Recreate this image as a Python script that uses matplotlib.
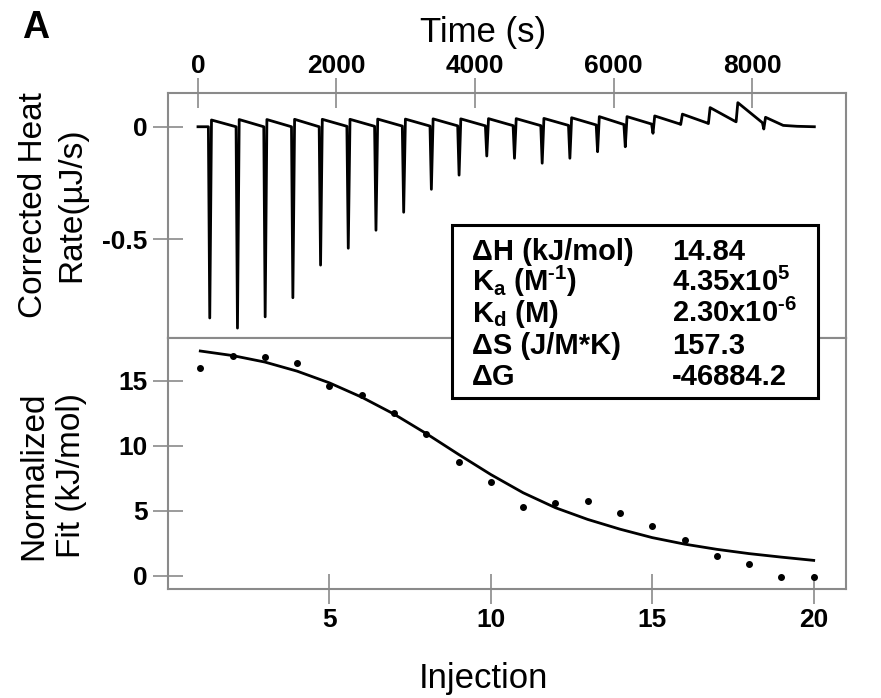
import matplotlib
matplotlib.use("Agg")
import matplotlib.pyplot as plt
from matplotlib.patches import Rectangle

plt.rcParams['font.family'] = ['Liberation Sans', 'DejaVu Sans']
plt.rcParams['mathtext.default'] = 'regular'

# raw thermogram
inj_time = [150, 550, 950, 1350, 1750, 2150, 2550, 2950, 3350, 3750, 4150,
            4550, 4950, 5350, 5750, 6150, 6550, 6950, 7350, 7750, 8150]
spike_min = [-0.85, -0.895, -0.845, -0.76, -0.615, -0.54, -0.46, -0.38, -0.278, -0.215, -0.13,
             -0.14, -0.162, -0.14, -0.111, -0.089, -0.029, 0.010, 0.014, 0.022, -0.01]
spike_max = [0.03, 0.032, 0.032, 0.033, 0.033, 0.033, 0.034, 0.034, 0.035, 0.035, 0.036,
             0.036, 0.037, 0.040, 0.045, 0.045, 0.048, 0.056, 0.085, 0.107, 0.042]
pre_level = [0.0, 0.0, 0.0, 0.0, 0.0, 0.002, 0.002, 0.003, 0.003, 0.004, 0.004,
             0.005, 0.005, 0.006, 0.008, 0.010, 0.012, 0.013, 0.017, 0.025, 0.018]
tail_time = [8450, 8650, 8900]
tail_rate = [0.006, 0.002, 0.0]

# integrated heats + fit
injection = [1, 2, 3, 4, 5, 6, 7, 8, 9, 10, 11, 12, 13, 14, 15, 16, 17, 18, 19, 20]
heat_pts = [16.0, 16.95, 16.85, 16.35, 14.6, 13.9, 12.5, 10.95, 8.8, 7.25, 5.3,
            5.6, 5.8, 4.85, 3.85, 2.8, 1.55, 0.9, -0.1, -0.1]
fit_vals = [17.3, 16.95, 16.45, 15.75, 14.85, 13.75, 12.45, 10.95, 9.35, 7.8, 6.4,
            5.25, 4.35, 3.6, 2.95, 2.45, 2.05, 1.72, 1.45, 1.2]

time_ticks = [0, 2000, 4000, 6000, 8000]
rate_ticks = [0, -0.5]
rate_labels = ['0', '-0.5']
inj_ticks = [5, 10, 15, 20]
heat_ticks = [0, 5, 10, 15]

param_names = ['ΔH (kJ/mol)', 'K$_{a}$ (M$^{‐1}$)', 'K$_{d}$ (M)', 'ΔS (J/M*K)', 'ΔG']
param_values = ['14.84', '4.35x10$^{5}$', '2.30x10$^{‐6}$', '157.3', '-46884.2']

# build the trace from the per-injection readings
t_pts = [0]
r_pts = [pre_level[0]]
for k, t0 in enumerate(inj_time):
    t_pts += [t0, t0 + 20, t0 + 45]
    r_pts += [pre_level[k], spike_min[k], spike_max[k]]
t_pts += tail_time
r_pts += tail_rate

W, H = 881, 698
fig = plt.figure(figsize=(W / 100, H / 100), dpi=100)
ax1 = fig.add_axes([168 / W, 1 - 338 / H, 678 / W, 245 / H])
ax2 = fig.add_axes([168 / W, 1 - 589 / H, 678 / W, 251 / H])

gray = '#8a8a8a'

ax1.plot(t_pts, r_pts, color='black', lw=2.0)
ax1.set_xlim(-433, 9357)
ax1.set_ylim(-0.939, 0.150)
ax1.xaxis.tick_top()
ax1.set_xticks(time_ticks)
ax1.set_yticks(rate_ticks)
ax1.set_yticklabels(rate_labels)

ax2.plot(injection, fit_vals, color='black', lw=2)
ax2.plot(injection, heat_pts, 'o', color='black', ms=4)
ax2.set_xlim(0, 21)
ax2.set_ylim(-1.0, 18.3)
ax2.set_xticks(inj_ticks)
ax2.set_yticks(heat_ticks)

for ax in (ax1, ax2):
    ax.tick_params(direction='inout', length=21, width=1.2, color=gray, labelsize=19)
    ax.tick_params(axis='y', pad=4)
    for s in ax.spines.values():
        s.set_color(gray)
        s.set_linewidth(1.5)
    for lbl in ax.get_xticklabels() + ax.get_yticklabels():
        lbl.set_fontweight('bold')
ax1.tick_params(axis='x', pad=0)
ax2.tick_params(axis='x', pad=3)

# parameter box
fig.add_artist(Rectangle((452 / W, 1 - 398 / H), 366 / W, 173 / H, transform=fig.transFigure,
                         facecolor='white', edgecolor='black', lw=2.2, zorder=5))
row_base = [260, 291, 322, 354, 385]
for name, val, yb in zip(param_names, param_values, row_base):
    fig.text(472 / W, 1 - yb / H, name, fontsize=21, fontweight='bold', va='baseline', zorder=6)
    fig.text(672 / W, 1 - yb / H, val, fontsize=21, fontweight='bold', va='baseline', zorder=6)

fig.text(22 / W, 1 - 38 / H, 'A', fontsize=27, fontweight='bold', va='baseline')
fig.text(483 / W, 1 - 42 / H, 'Time (s)', fontsize=25, ha='center', va='baseline')
fig.text(483 / W, 1 - 688 / H, 'Injection', fontsize=25, ha='center', va='baseline')

for txt, xb, yc in [('Corrected Heat', 42, 205), ('Rate(µJ/s)', 80, 205),
                    ('Normalized', 42, 476), ('Fit (kJ/mol)', 80, 476)]:
    fig.text(xb / W, 1 - yc / H, txt, fontsize=24, rotation=90, rotation_mode='anchor',
             ha='center', va='baseline')

fig.savefig('out.png', dpi=100)
